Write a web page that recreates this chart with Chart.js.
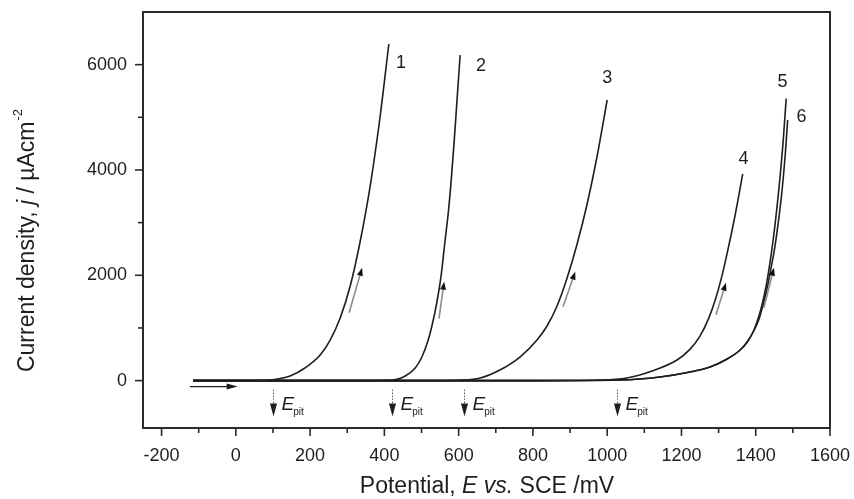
<!DOCTYPE html>
<html>
<head>
<meta charset="utf-8">
<script src="https://cdn.jsdelivr.net/npm/chart.js@4.4.0/dist/chart.umd.min.js"></script>
<style>
  html, body { margin: 0; padding: 0; background: #fff; }
  #wrap { position: relative; width: 854px; height: 499px; }
</style>
</head>
<body>
<div id="wrap"><canvas id="chart"></canvas></div>
<script>
/* ---------- data (E in mV vs SCE, j in uA/cm2) ---------- */
const potential1 = [-115, 0, 60, 92, 146, 186, 227, 254, 281, 308, 334, 361, 388, 412];
const current1   = [0, 0, 3, 11, 87, 239, 486, 771, 1189, 1796, 2613, 3658, 4987, 6392];

const potential2 = [-115, 300, 423, 456, 483, 501, 518, 528, 542, 553, 563, 572, 580, 588, 596, 604];
const current2   = [0, 0, 11, 87, 239, 448, 771, 1037, 1512, 2005, 2632, 3183, 3806, 4547, 5364, 6181];

const potential3 = [-115, 500, 612, 658, 711, 765, 811, 838, 865, 892, 919, 946, 973, 1000];
const current3   = [0, 0, 11, 49, 201, 448, 771, 1037, 1417, 1948, 2594, 3354, 4265, 5329];

const potential4 = [-115, 800, 981, 1053, 1121, 1188, 1222, 1249, 1273, 1292, 1308, 1324, 1343, 1365];
const current4   = [0, 0, 11, 49, 182, 391, 589, 836, 1177, 1553, 1960, 2450, 3088, 3924];

const potential5 = [-115, 800, 1035, 1142, 1223, 1277, 1323, 1358, 1377, 1393, 1406, 1417, 1428, 1436, 1444, 1452, 1463, 1474, 1482];
const current5   = [0, 0, 11, 68, 163, 258, 410, 581, 733, 923, 1170, 1443, 1800, 2131, 2518, 2962, 3684, 4558, 5355];

const potential6 = [-115, 800, 1035, 1142, 1223, 1277, 1323, 1358, 1377, 1393, 1409, 1420, 1432, 1441, 1451, 1460, 1471, 1480, 1486];
const current6   = [0, 0, 11, 68, 163, 258, 410, 581, 733, 923, 1170, 1443, 1800, 2131, 2518, 2962, 3619, 4341, 4949];

const xMajorTicks = [-200, 0, 200, 400, 600, 800, 1000, 1200, 1400, 1600];
const xMinorTicks = [-100, 100, 300, 500, 700, 900, 1100, 1300, 1500];
const yMajorTicks = [0, 2000, 4000, 6000];
const yMinorTicks = [1000, 3000, 5000];

// annotations
const curveNames = ['1', '2', '3', '4', '5', '6'];
const epitPotentials = [100, 420, 615, 1027];

/* ---------- annotation placement (data units) ---------- */
const nameSpots = [[445, 6030], [660, 5970], [1000, 5745], [1367, 4210], [1472, 5670], [1523, 5005]];
const sweepArrows = [
  [[305, 1289], [340, 2142]],
  [[547, 1176], [561, 1877]],
  [[881, 1403], [914, 2067]],
  [[1293, 1251], [1320, 1858]],
  [[1422, 1384], [1449, 2142]],
];
const startArrow = [[-124, -114], [5, -114]];

const FONT = "'Liberation Sans', Arial, sans-serif";
const INK = '#1e1e1e';

function toPoints(xs, ys) {
  return xs.map((x, i) => ({ x: x, y: ys[i] }));
}

function curve(label, xs, ys) {
  return {
    label: label,
    data: toPoints(xs, ys),
    showLine: true,
    borderColor: INK,
    borderWidth: 1.6,
    pointRadius: 0,
    cubicInterpolationMode: 'monotone',
  };
}

function arrowHead(ctx, x0, y0, x1, y1, len, half) {
  const a = Math.atan2(y1 - y0, x1 - x0);
  ctx.beginPath();
  ctx.moveTo(x1, y1);
  ctx.lineTo(x1 - len * Math.cos(a) + half * Math.sin(a), y1 - len * Math.sin(a) - half * Math.cos(a));
  ctx.lineTo(x1 - len * Math.cos(a) - half * Math.sin(a), y1 - len * Math.sin(a) + half * Math.cos(a));
  ctx.closePath();
  ctx.fill();
}

function noPad(s) {
  s.paddingLeft = 0; s.paddingRight = 0; s.paddingTop = 0; s.paddingBottom = 0;
}

/* ---------- decorations: frame, ticks, arrows, labels ---------- */
const decor = {
  id: 'decor',
  afterDatasetsDraw(chart) {
    const { ctx, scales: { x, y } } = chart;
    ctx.save();

    // gray sweep arrows along the curves
    sweepArrows.forEach(([t, h]) => {
      const x0 = x.getPixelForValue(t[0]), y0 = y.getPixelForValue(t[1]);
      const x1 = x.getPixelForValue(h[0]), y1 = y.getPixelForValue(h[1]);
      const a = Math.atan2(y1 - y0, x1 - x0);
      ctx.strokeStyle = '#8c8c8c';
      ctx.lineWidth = 1.6;
      ctx.beginPath();
      ctx.moveTo(x0, y0);
      ctx.lineTo(x1 - 5 * Math.cos(a), y1 - 5 * Math.sin(a));
      ctx.stroke();
      ctx.fillStyle = '#111';
      arrowHead(ctx, x0, y0, x1, y1, 8, 3);
    });

    // forward sweep arrow
    {
      const x0 = x.getPixelForValue(startArrow[0][0]), y0 = y.getPixelForValue(startArrow[0][1]);
      const x1 = x.getPixelForValue(startArrow[1][0]), y1 = y.getPixelForValue(startArrow[1][1]);
      ctx.strokeStyle = INK;
      ctx.lineWidth = 1.3;
      ctx.beginPath();
      ctx.moveTo(x0, y0);
      ctx.lineTo(x1 - 6, y1);
      ctx.stroke();
      ctx.fillStyle = INK;
      arrowHead(ctx, x0, y0, x1, y1, 11, 3);
    }

    // E_pit markers
    const y0 = y.getPixelForValue(0);
    epitPotentials.forEach(e => {
      const px = Math.round(x.getPixelForValue(e)) + 0.5;
      ctx.strokeStyle = '#555';
      ctx.lineWidth = 1;
      ctx.setLineDash([1.5, 1.5]);
      ctx.beginPath();
      ctx.moveTo(px, y0 + 9);
      ctx.lineTo(px, y0 + 25);
      ctx.stroke();
      ctx.setLineDash([]);
      ctx.fillStyle = INK;
      ctx.beginPath();
      ctx.moveTo(px - 3.5, y0 + 23);
      ctx.lineTo(px + 3.5, y0 + 23);
      ctx.lineTo(px, y0 + 36);
      ctx.closePath();
      ctx.fill();

      ctx.textAlign = 'left';
      ctx.textBaseline = 'alphabetic';
      ctx.font = 'italic 19px ' + FONT;
      ctx.fillText('E', px + 8, y0 + 29);
      const w = ctx.measureText('E').width;
      ctx.font = '10px ' + FONT;
      ctx.fillText('pit', px + 8 + w - 1, y0 + 34);
    });

    // curve numbers
    ctx.font = '18px ' + FONT;
    ctx.textAlign = 'center';
    ctx.textBaseline = 'middle';
    ctx.fillStyle = INK;
    curveNames.forEach((n, i) => {
      ctx.fillText(n, x.getPixelForValue(nameSpots[i][0]), y.getPixelForValue(nameSpots[i][1]));
    });

    ctx.restore();
  },
  afterDraw(chart) {
    const { ctx, chartArea: a, scales: { x, y } } = chart;
    ctx.save();
    ctx.strokeStyle = '#2a2a2a';
    ctx.lineWidth = 2;
    ctx.strokeRect(a.left, a.top, a.right - a.left, a.bottom - a.top);

    ctx.lineWidth = 1.6;
    const tick = (px, len, horiz) => {
      ctx.beginPath();
      if (horiz) { ctx.moveTo(a.left, px); ctx.lineTo(a.left - len, px); }
      else { ctx.moveTo(px, a.bottom); ctx.lineTo(px, a.bottom + len); }
      ctx.stroke();
    };
    xMajorTicks.forEach(v => tick(x.getPixelForValue(v), 8, false));
    xMinorTicks.forEach(v => tick(x.getPixelForValue(v), 5, false));
    yMajorTicks.forEach(v => tick(y.getPixelForValue(v), 8, true));
    yMinorTicks.forEach(v => tick(y.getPixelForValue(v), 5, true));

    // axis titles
    ctx.fillStyle = INK;
    ctx.textBaseline = 'middle';
    const parts = (list, size) => list.map(p => {
      ctx.font = (p[1] ? 'italic ' : '') + size + 'px ' + FONT;
      return ctx.measureText(p[0]).width;
    });

    const xt = [['Potential, ', false], ['E', true], [' ', false], ['vs.', true], [' SCE /mV', false]];
    const xw = parts(xt, 23);
    let cx = 487 - xw.reduce((s, v) => s + v, 0) / 2;
    ctx.textAlign = 'left';
    xt.forEach((p, i) => {
      ctx.font = (p[1] ? 'italic ' : '') + '23px ' + FONT;
      ctx.fillText(p[0], cx, 487);
      cx += xw[i];
    });

    ctx.translate(28, 241);
    ctx.rotate(-Math.PI / 2);
    const yt = [['Current density, ', false], ['j', true], [' / \u00b5Acm', false]];
    const yw = parts(yt, 23);
    ctx.font = '13px ' + FONT;
    const supW = ctx.measureText('-2').width;
    let cy = -(yw.reduce((s, v) => s + v, 0) + supW) / 2;
    yt.forEach((p, i) => {
      ctx.font = (p[1] ? 'italic ' : '') + '23px ' + FONT;
      ctx.fillText(p[0], cy, 0);
      cy += yw[i];
    });
    ctx.font = '13px ' + FONT;
    ctx.fillText('-2', cy + 1, -10);
    ctx.restore();
  }
};

/* ---------- chart ---------- */
const ctx = document.getElementById('chart').getContext('2d');
new Chart(ctx, {
  type: 'scatter',
  data: {
    datasets: [
      curve('1', potential1, current1),
      curve('2', potential2, current2),
      curve('3', potential3, current3),
      curve('4', potential4, current4),
      curve('5', potential5, current5),
      curve('6', potential6, current6),
    ],
  },
  options: {
    responsive: true,
    maintainAspectRatio: false,
    animation: false,
    layout: { padding: { top: 12, right: 24, left: 0, bottom: 0 } },
    plugins: { legend: { display: false }, tooltip: { enabled: false } },
    scales: {
      x: {
        type: 'linear',
        min: -250,
        max: 1600,
        afterFit: s => { s.height = 71; noPad(s); },
        afterBuildTicks: s => { s.ticks = xMajorTicks.map(v => ({ value: v })); },
        grid: { display: false, drawTicks: false },
        border: { display: false },
        ticks: {
          autoSkip: false,
          maxRotation: 0,
          padding: 17,
          color: INK,
          font: { family: FONT, size: 18 },
          callback: v => String(v),
        },
      },
      y: {
        type: 'linear',
        min: -900,
        max: 7000,
        afterFit: s => { s.width = 143; noPad(s); },
        afterBuildTicks: s => { s.ticks = yMajorTicks.map(v => ({ value: v })); },
        grid: { display: false, drawTicks: false },
        border: { display: false },
        ticks: {
          autoSkip: false,
          padding: 16,
          color: INK,
          font: { family: FONT, size: 18 },
          callback: v => String(v),
        },
      },
    },
  },
  plugins: [decor],
});
</script>
</body>
</html>
